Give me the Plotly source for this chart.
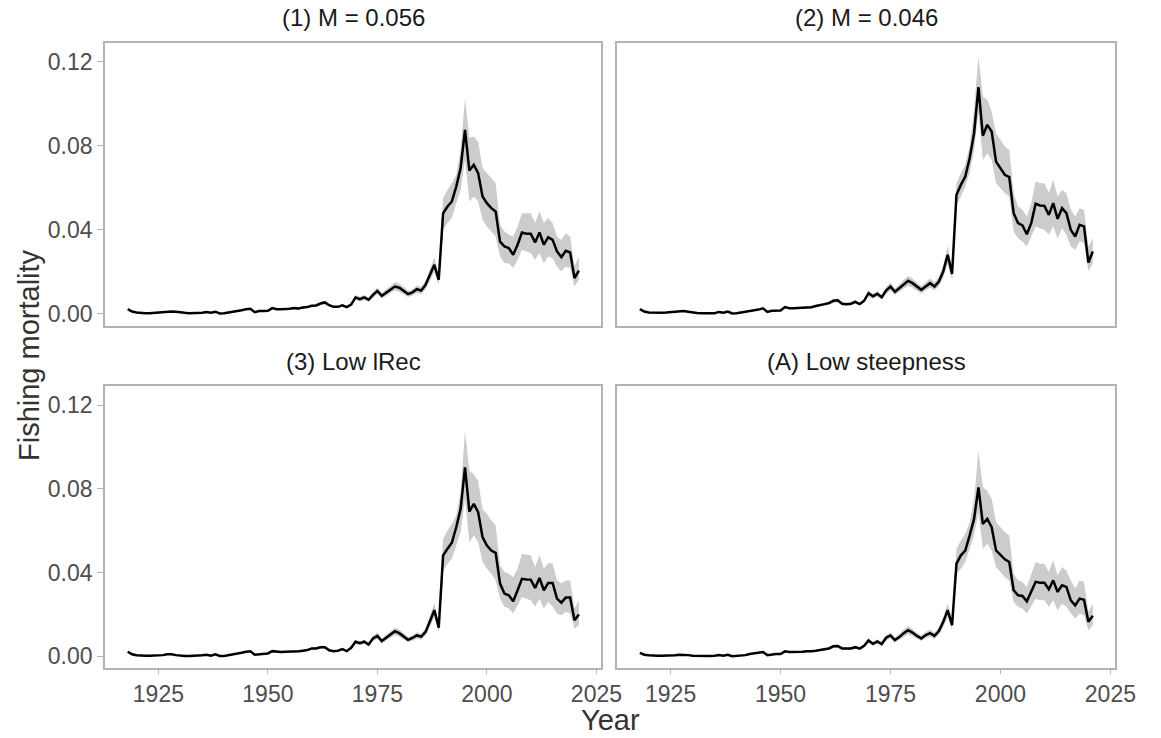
import plotly.graph_objects as go

# ---- data: fishing mortality by year for four model runs (estimate, lower, upper) ----
years = list(range(1918, 2022))

panel_titles = ["(1) M = 0.056", "(2) M = 0.046", "(3) Low lRec", "(A) Low steepness"]

f_m056 = [
    0.0022, 0.0011, 0.0006, 0.0003, 0.0003, 0.0003, 0.0005, 0.0006, 0.0008, 0.0011, 0.0011, 0.0010,
    0.0006, 0.0005, 0.0003, 0.0003, 0.0003, 0.0005, 0.0008, 0.0005, 0.0010, 0.0002,
    0.0003, 0.0006, 0.0010, 0.0014, 0.0017, 0.0022, 0.0024, 0.0008, 0.0013, 0.0013,
    0.0014, 0.0027, 0.0022, 0.0022, 0.0022, 0.0024, 0.0027, 0.0025, 0.0030, 0.0032,
    0.0038, 0.0040, 0.0049, 0.0054, 0.0041, 0.0033, 0.0033, 0.0040, 0.0032, 0.0044,
    0.0078, 0.0070, 0.0078, 0.0067, 0.0090, 0.0109, 0.0086, 0.0100, 0.0115, 0.0130,
    0.0124, 0.0111, 0.0094, 0.0102, 0.0117, 0.0111, 0.0138, 0.0186, 0.0233, 0.0162,
    0.0479, 0.0511, 0.0535, 0.0606, 0.0694, 0.0876, 0.0682, 0.0710, 0.0670, 0.0559,
    0.0527, 0.0503, 0.0487, 0.0344, 0.0321, 0.0313, 0.0281, 0.0329, 0.0387, 0.0381,
    0.0381, 0.0340, 0.0387, 0.0329, 0.0365, 0.0352, 0.0297, 0.0270, 0.0300, 0.0292,
    0.0170, 0.0206,
]
lo_m056 = [
    0.0019, 0.0009, 0.0005, 0.0002, 0.0002, 0.0002, 0.0004, 0.0005, 0.0007, 0.0009, 0.0009, 0.0008,
    0.0005, 0.0004, 0.0002, 0.0002, 0.0002, 0.0004, 0.0007, 0.0004, 0.0008, 0.0001,
    0.0002, 0.0005, 0.0008, 0.0012, 0.0014, 0.0019, 0.0020, 0.0007, 0.0011, 0.0011,
    0.0012, 0.0023, 0.0019, 0.0019, 0.0019, 0.0020, 0.0023, 0.0021, 0.0026, 0.0027,
    0.0033, 0.0034, 0.0042, 0.0046, 0.0035, 0.0028, 0.0028, 0.0034, 0.0027, 0.0037,
    0.0066, 0.0059, 0.0066, 0.0057, 0.0077, 0.0093, 0.0073, 0.0085, 0.0098, 0.0111,
    0.0105, 0.0094, 0.0080, 0.0087, 0.0099, 0.0094, 0.0117, 0.0158, 0.0198, 0.0138,
    0.0400, 0.0432, 0.0456, 0.0527, 0.0590, 0.0733, 0.0535, 0.0559, 0.0535, 0.0448,
    0.0416, 0.0392, 0.0368, 0.0273, 0.0241, 0.0241, 0.0218, 0.0257, 0.0305, 0.0297,
    0.0289, 0.0257, 0.0289, 0.0241, 0.0273, 0.0265, 0.0225, 0.0202, 0.0225, 0.0218,
    0.0130, 0.0162,
]
hi_m056 = [
    0.0025, 0.0013, 0.0007, 0.0004, 0.0004, 0.0004, 0.0006, 0.0007, 0.0009, 0.0013, 0.0013, 0.0012,
    0.0007, 0.0006, 0.0004, 0.0004, 0.0004, 0.0006, 0.0009, 0.0006, 0.0012, 0.0003,
    0.0004, 0.0007, 0.0012, 0.0016, 0.0020, 0.0025, 0.0028, 0.0009, 0.0015, 0.0015,
    0.0016, 0.0031, 0.0025, 0.0025, 0.0025, 0.0028, 0.0031, 0.0029, 0.0034, 0.0037,
    0.0044, 0.0046, 0.0056, 0.0062, 0.0047, 0.0038, 0.0038, 0.0046, 0.0037, 0.0051,
    0.0090, 0.0081, 0.0090, 0.0077, 0.0104, 0.0125, 0.0099, 0.0115, 0.0132, 0.0150,
    0.0143, 0.0128, 0.0108, 0.0117, 0.0135, 0.0128, 0.0159, 0.0214, 0.0268, 0.0186,
    0.0551, 0.0590, 0.0622, 0.0662, 0.0781, 0.1027, 0.0837, 0.0845, 0.0821, 0.0694,
    0.0670, 0.0646, 0.0622, 0.0424, 0.0392, 0.0376, 0.0368, 0.0416, 0.0479, 0.0479,
    0.0479, 0.0432, 0.0487, 0.0432, 0.0456, 0.0432, 0.0368, 0.0352, 0.0384, 0.0368,
    0.0225, 0.0273,
]

f_m046 = [
    0.0022, 0.0011, 0.0006, 0.0005, 0.0005, 0.0005, 0.0006, 0.0008, 0.0010, 0.0011, 0.0013, 0.0010,
    0.0006, 0.0004, 0.0003, 0.0002, 0.0002, 0.0003, 0.0009, 0.0005, 0.0011, 0.0002,
    0.0003, 0.0006, 0.0010, 0.0012, 0.0015, 0.0020, 0.0026, 0.0009, 0.0014, 0.0014,
    0.0016, 0.0032, 0.0027, 0.0027, 0.0028, 0.0029, 0.0033, 0.0031, 0.0037, 0.0040,
    0.0046, 0.0051, 0.0062, 0.0064, 0.0048, 0.0046, 0.0048, 0.0057, 0.0046, 0.0062,
    0.0098, 0.0083, 0.0095, 0.0079, 0.0111, 0.0130, 0.0105, 0.0122, 0.0138, 0.0157,
    0.0146, 0.0130, 0.0114, 0.0130, 0.0146, 0.0130, 0.0154, 0.0202, 0.0281, 0.0190,
    0.0567, 0.0614, 0.0654, 0.0741, 0.0860, 0.1079, 0.0848, 0.0900, 0.0868, 0.0725,
    0.0694, 0.0662, 0.0651, 0.0479, 0.0432, 0.0421, 0.0379, 0.0432, 0.0524, 0.0516,
    0.0514, 0.0471, 0.0527, 0.0452, 0.0503, 0.0479, 0.0400, 0.0368, 0.0424, 0.0416,
    0.0244, 0.0297,
]
lo_m046 = [
    0.0019, 0.0009, 0.0005, 0.0004, 0.0004, 0.0004, 0.0005, 0.0007, 0.0008, 0.0009, 0.0011, 0.0008,
    0.0005, 0.0003, 0.0002, 0.0001, 0.0001, 0.0002, 0.0008, 0.0004, 0.0009, 0.0001,
    0.0002, 0.0005, 0.0008, 0.0010, 0.0013, 0.0017, 0.0022, 0.0008, 0.0012, 0.0012,
    0.0014, 0.0027, 0.0023, 0.0023, 0.0024, 0.0025, 0.0028, 0.0026, 0.0031, 0.0034,
    0.0039, 0.0043, 0.0053, 0.0054, 0.0041, 0.0039, 0.0041, 0.0048, 0.0039, 0.0053,
    0.0083, 0.0071, 0.0081, 0.0067, 0.0094, 0.0111, 0.0089, 0.0104, 0.0117, 0.0133,
    0.0124, 0.0111, 0.0097, 0.0111, 0.0124, 0.0111, 0.0131, 0.0172, 0.0239, 0.0162,
    0.0519, 0.0559, 0.0606, 0.0670, 0.0781, 0.0956, 0.0733, 0.0765, 0.0733, 0.0622,
    0.0598, 0.0575, 0.0559, 0.0392, 0.0360, 0.0344, 0.0321, 0.0368, 0.0416, 0.0408,
    0.0400, 0.0376, 0.0416, 0.0360, 0.0408, 0.0376, 0.0321, 0.0305, 0.0344, 0.0337,
    0.0202, 0.0241,
]
hi_m046 = [
    0.0025, 0.0013, 0.0007, 0.0006, 0.0006, 0.0006, 0.0007, 0.0009, 0.0012, 0.0013, 0.0015, 0.0012,
    0.0007, 0.0005, 0.0004, 0.0003, 0.0003, 0.0004, 0.0010, 0.0006, 0.0013, 0.0003,
    0.0004, 0.0007, 0.0012, 0.0014, 0.0017, 0.0023, 0.0030, 0.0010, 0.0016, 0.0016,
    0.0018, 0.0037, 0.0031, 0.0031, 0.0032, 0.0033, 0.0038, 0.0036, 0.0043, 0.0046,
    0.0053, 0.0059, 0.0071, 0.0074, 0.0055, 0.0053, 0.0055, 0.0066, 0.0053, 0.0071,
    0.0113, 0.0095, 0.0109, 0.0091, 0.0128, 0.0150, 0.0121, 0.0140, 0.0159, 0.0181,
    0.0168, 0.0150, 0.0131, 0.0150, 0.0168, 0.0150, 0.0177, 0.0232, 0.0323, 0.0219,
    0.0622, 0.0670, 0.0710, 0.0797, 0.0971, 0.1225, 0.1035, 0.1019, 0.0963, 0.0860,
    0.0829, 0.0797, 0.0781, 0.0575, 0.0511, 0.0495, 0.0463, 0.0527, 0.0630, 0.0622,
    0.0622, 0.0575, 0.0638, 0.0559, 0.0590, 0.0575, 0.0495, 0.0463, 0.0503, 0.0495,
    0.0321, 0.0360,
]

f_lowrec = [
    0.0022, 0.0010, 0.0005, 0.0003, 0.0003, 0.0003, 0.0003, 0.0003, 0.0006, 0.0010, 0.0010, 0.0006,
    0.0003, 0.0002, 0.0002, 0.0002, 0.0002, 0.0005, 0.0008, 0.0003, 0.0010, 0.0002,
    0.0002, 0.0005, 0.0008, 0.0013, 0.0017, 0.0022, 0.0024, 0.0008, 0.0011, 0.0013,
    0.0014, 0.0025, 0.0022, 0.0021, 0.0022, 0.0022, 0.0025, 0.0024, 0.0027, 0.0030,
    0.0038, 0.0038, 0.0044, 0.0044, 0.0029, 0.0025, 0.0027, 0.0035, 0.0025, 0.0041,
    0.0070, 0.0063, 0.0070, 0.0057, 0.0086, 0.0098, 0.0073, 0.0089, 0.0105, 0.0120,
    0.0111, 0.0097, 0.0079, 0.0088, 0.0100, 0.0094, 0.0117, 0.0168, 0.0221, 0.0137,
    0.0483, 0.0514, 0.0543, 0.0617, 0.0705, 0.0903, 0.0692, 0.0729, 0.0689, 0.0570,
    0.0530, 0.0506, 0.0495, 0.0348, 0.0300, 0.0292, 0.0263, 0.0316, 0.0371, 0.0368,
    0.0367, 0.0327, 0.0375, 0.0316, 0.0351, 0.0351, 0.0276, 0.0257, 0.0281, 0.0281,
    0.0173, 0.0200,
]
lo_lowrec = [
    0.0019, 0.0008, 0.0004, 0.0002, 0.0002, 0.0002, 0.0002, 0.0002, 0.0005, 0.0008, 0.0008, 0.0005,
    0.0002, 0.0001, 0.0001, 0.0001, 0.0001, 0.0004, 0.0007, 0.0002, 0.0008, 0.0001,
    0.0001, 0.0004, 0.0007, 0.0011, 0.0014, 0.0019, 0.0020, 0.0007, 0.0009, 0.0011,
    0.0012, 0.0021, 0.0019, 0.0018, 0.0019, 0.0019, 0.0021, 0.0020, 0.0023, 0.0026,
    0.0032, 0.0032, 0.0037, 0.0037, 0.0025, 0.0021, 0.0023, 0.0030, 0.0021, 0.0035,
    0.0060, 0.0054, 0.0060, 0.0048, 0.0073, 0.0083, 0.0062, 0.0076, 0.0089, 0.0102,
    0.0094, 0.0082, 0.0067, 0.0075, 0.0085, 0.0080, 0.0099, 0.0143, 0.0188, 0.0116,
    0.0411, 0.0443, 0.0467, 0.0530, 0.0594, 0.0752, 0.0546, 0.0578, 0.0546, 0.0451,
    0.0419, 0.0395, 0.0363, 0.0276, 0.0237, 0.0229, 0.0205, 0.0244, 0.0284, 0.0276,
    0.0268, 0.0237, 0.0276, 0.0229, 0.0260, 0.0237, 0.0205, 0.0197, 0.0213, 0.0205,
    0.0133, 0.0149,
]
hi_lowrec = [
    0.0025, 0.0012, 0.0006, 0.0004, 0.0004, 0.0004, 0.0004, 0.0004, 0.0007, 0.0012, 0.0012, 0.0007,
    0.0004, 0.0003, 0.0003, 0.0003, 0.0003, 0.0006, 0.0009, 0.0004, 0.0012, 0.0003,
    0.0003, 0.0006, 0.0009, 0.0015, 0.0020, 0.0025, 0.0028, 0.0009, 0.0013, 0.0015,
    0.0016, 0.0029, 0.0025, 0.0024, 0.0025, 0.0025, 0.0029, 0.0028, 0.0031, 0.0034,
    0.0044, 0.0044, 0.0051, 0.0051, 0.0033, 0.0029, 0.0031, 0.0040, 0.0029, 0.0047,
    0.0080, 0.0072, 0.0080, 0.0066, 0.0099, 0.0113, 0.0084, 0.0102, 0.0121, 0.0138,
    0.0128, 0.0112, 0.0091, 0.0101, 0.0115, 0.0108, 0.0135, 0.0193, 0.0254, 0.0158,
    0.0562, 0.0602, 0.0633, 0.0673, 0.0784, 0.1078, 0.0887, 0.0871, 0.0840, 0.0705,
    0.0681, 0.0649, 0.0625, 0.0435, 0.0403, 0.0395, 0.0379, 0.0419, 0.0490, 0.0486,
    0.0483, 0.0427, 0.0483, 0.0419, 0.0446, 0.0443, 0.0363, 0.0348, 0.0363, 0.0363,
    0.0229, 0.0268,
]

f_lowsteep = [
    0.0017, 0.0008, 0.0005, 0.0003, 0.0003, 0.0003, 0.0003, 0.0003, 0.0005, 0.0008, 0.0008, 0.0006,
    0.0003, 0.0002, 0.0002, 0.0002, 0.0002, 0.0003, 0.0007, 0.0003, 0.0008, 0.0001,
    0.0002, 0.0003, 0.0006, 0.0011, 0.0014, 0.0017, 0.0021, 0.0006, 0.0010, 0.0011,
    0.0011, 0.0024, 0.0021, 0.0021, 0.0021, 0.0022, 0.0025, 0.0024, 0.0027, 0.0030,
    0.0035, 0.0038, 0.0048, 0.0049, 0.0038, 0.0037, 0.0038, 0.0044, 0.0037, 0.0051,
    0.0076, 0.0060, 0.0071, 0.0059, 0.0089, 0.0100, 0.0078, 0.0092, 0.0111, 0.0125,
    0.0114, 0.0098, 0.0086, 0.0102, 0.0111, 0.0098, 0.0121, 0.0165, 0.0221, 0.0149,
    0.0443, 0.0483, 0.0506, 0.0578, 0.0657, 0.0808, 0.0633, 0.0657, 0.0617, 0.0506,
    0.0483, 0.0464, 0.0451, 0.0316, 0.0292, 0.0289, 0.0263, 0.0308, 0.0356, 0.0352,
    0.0352, 0.0321, 0.0363, 0.0308, 0.0340, 0.0332, 0.0268, 0.0244, 0.0276, 0.0271,
    0.0165, 0.0194,
]
lo_lowsteep = [
    0.0015, 0.0007, 0.0004, 0.0002, 0.0002, 0.0002, 0.0002, 0.0002, 0.0004, 0.0007, 0.0007, 0.0005,
    0.0002, 0.0001, 0.0001, 0.0001, 0.0001, 0.0002, 0.0006, 0.0002, 0.0007, 0.0000,
    0.0001, 0.0002, 0.0005, 0.0009, 0.0012, 0.0014, 0.0018, 0.0005, 0.0008, 0.0009,
    0.0009, 0.0020, 0.0018, 0.0018, 0.0018, 0.0019, 0.0021, 0.0020, 0.0023, 0.0026,
    0.0030, 0.0032, 0.0041, 0.0042, 0.0032, 0.0031, 0.0032, 0.0037, 0.0031, 0.0043,
    0.0065, 0.0051, 0.0060, 0.0050, 0.0076, 0.0085, 0.0066, 0.0078, 0.0094, 0.0106,
    0.0097, 0.0083, 0.0073, 0.0087, 0.0094, 0.0083, 0.0103, 0.0140, 0.0188, 0.0127,
    0.0395, 0.0419, 0.0451, 0.0514, 0.0578, 0.0689, 0.0514, 0.0538, 0.0506, 0.0427,
    0.0403, 0.0379, 0.0363, 0.0260, 0.0237, 0.0229, 0.0205, 0.0244, 0.0276, 0.0268,
    0.0268, 0.0237, 0.0268, 0.0221, 0.0252, 0.0237, 0.0205, 0.0181, 0.0205, 0.0197,
    0.0125, 0.0149,
]
hi_lowsteep = [
    0.0019, 0.0009, 0.0006, 0.0004, 0.0004, 0.0004, 0.0004, 0.0004, 0.0006, 0.0009, 0.0009, 0.0007,
    0.0004, 0.0003, 0.0003, 0.0003, 0.0003, 0.0004, 0.0008, 0.0004, 0.0009, 0.0002,
    0.0003, 0.0004, 0.0007, 0.0013, 0.0016, 0.0020, 0.0024, 0.0007, 0.0012, 0.0013,
    0.0013, 0.0028, 0.0024, 0.0024, 0.0024, 0.0025, 0.0029, 0.0028, 0.0031, 0.0034,
    0.0040, 0.0044, 0.0055, 0.0056, 0.0044, 0.0043, 0.0044, 0.0051, 0.0043, 0.0059,
    0.0087, 0.0069, 0.0082, 0.0068, 0.0102, 0.0115, 0.0090, 0.0106, 0.0128, 0.0144,
    0.0131, 0.0113, 0.0099, 0.0117, 0.0128, 0.0113, 0.0139, 0.0190, 0.0254, 0.0171,
    0.0514, 0.0554, 0.0586, 0.0641, 0.0752, 0.0982, 0.0808, 0.0792, 0.0752, 0.0641,
    0.0617, 0.0594, 0.0578, 0.0395, 0.0363, 0.0356, 0.0332, 0.0387, 0.0451, 0.0443,
    0.0443, 0.0403, 0.0459, 0.0387, 0.0427, 0.0411, 0.0363, 0.0324, 0.0363, 0.0356,
    0.0213, 0.0252,
]

x_ticks = [1925, 1950, 1975, 2000, 2025]
y_ticks = [0.00, 0.04, 0.08, 0.12]

# ---- layout constants ----
W, H = 1161, 738
FONT = "Liberation Sans"
BORDER = "#B3B3B3"
RIBBON = "#CCCCCC"
TICK_SIZE = 23
STRIP_SIZE = 24
TITLE_SIZE = 29
x_range = [1912.85, 2026.15]
y_range = [-0.0056, 0.1290]

# panel boxes in pixels: (left, right, top, bottom)
boxes = [(107, 612, 43, 326), (628, 1135, 43, 326),
         (107, 612, 387, 669), (628, 1135, 387, 669)]

series = [(f_m056, lo_m056, hi_m056), (f_m046, lo_m046, hi_m046),
          (f_lowrec, lo_lowrec, hi_lowrec), (f_lowsteep, lo_lowsteep, hi_lowsteep)]

fig = go.Figure()
layout = dict(
    width=W, height=H,
    margin=dict(l=0, r=0, t=0, b=0),
    paper_bgcolor="white", plot_bgcolor="white",
    showlegend=False,
    font=dict(family=FONT, color="#4D4D4D"),
)

annotations = []
for i, ((f, lo, hi), (l, r, t, b), title) in enumerate(zip(series, boxes, panel_titles)):
    n = "" if i == 0 else str(i + 1)
    xa, ya = "x" + n, "y" + n
    fig.add_trace(go.Scatter(x=years, y=lo, mode="lines", line=dict(width=0),
                             xaxis=xa, yaxis=ya, hoverinfo="skip"))
    fig.add_trace(go.Scatter(x=years, y=hi, mode="lines", line=dict(width=0),
                             fill="tonexty", fillcolor=RIBBON,
                             xaxis=xa, yaxis=ya, hoverinfo="skip"))
    fig.add_trace(go.Scatter(x=years, y=f, mode="lines",
                             line=dict(color="black", width=2.5),
                             xaxis=xa, yaxis=ya))

    bottom_row = i >= 2
    left_col = i % 2 == 0
    layout["xaxis" + n] = dict(
        domain=[l / W, r / W], anchor=ya, range=x_range,
        tickvals=x_ticks, showticklabels=bottom_row,
        ticks="outside" if bottom_row else "", ticklen=4, tickwidth=1.1, tickcolor=BORDER,
        tickfont=dict(size=TICK_SIZE, color="#4D4D4D"),
        showline=True, mirror=True, linecolor=BORDER, linewidth=2,
        showgrid=False, zeroline=False,
    )
    layout["yaxis" + n] = dict(
        domain=[1 - b / H, 1 - t / H], anchor=xa, range=y_range,
        tickvals=y_ticks, tickformat=".2f", showticklabels=left_col,
        ticks="outside" if left_col else "", ticklen=6, tickwidth=1.1, tickcolor=BORDER,
        tickfont=dict(size=TICK_SIZE, color="#4D4D4D"),
        showline=True, mirror=True, linecolor=BORDER, linewidth=2,
        showgrid=False, zeroline=False,
    )
    # facet strip title
    annotations.append(dict(
        text=title, x=(l + r) / 2 / W, y=1 - (t - 25) / H,
        xref="paper", yref="paper", xanchor="center", yanchor="middle",
        showarrow=False, font=dict(family=FONT, size=STRIP_SIZE, color="#1A1A1A"),
    ))

annotations.append(dict(
    text="Year", x=(107 + 1135) / 2 / W, y=0, yshift=0, borderpad=0,
    xref="paper", yref="paper", xanchor="center", yanchor="bottom",
    showarrow=False, font=dict(family=FONT, size=TITLE_SIZE, color="#333333"),
))
annotations.append(dict(
    text="Fishing mortality", x=29 / W, y=1 - 356 / H, textangle=-90,
    xref="paper", yref="paper", xanchor="center", yanchor="middle",
    showarrow=False, font=dict(family=FONT, size=TITLE_SIZE, color="#333333"),
))
layout["annotations"] = annotations

fig.update_layout(**layout)
fig.write_html("out.html")
